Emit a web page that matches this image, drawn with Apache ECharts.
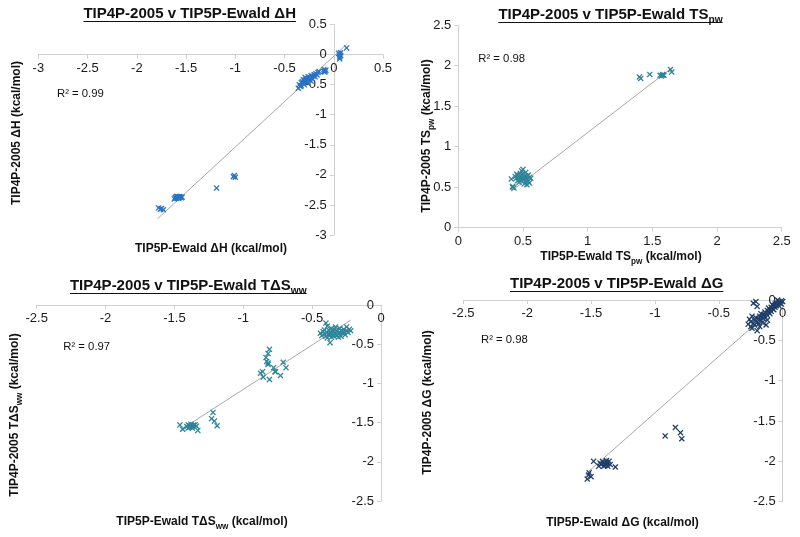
<!DOCTYPE html>
<html>
<head>
<meta charset="utf-8">
<script src="https://cdn.jsdelivr.net/npm/echarts@6/dist/echarts.min.js"></script>
<style>html,body{margin:0;padding:0;background:#fff;}#c{width:800px;height:537px;}</style>
</head>
<body>
<div id="c"></div>
<script>
// ---------- DATA ----------
const dH = [
 [-1.78,-2.55],[-1.76,-2.57],[-1.75,-2.56],[-1.73,-2.58],
 [-1.62,-2.40],[-1.61,-2.38],[-1.60,-2.39],[-1.59,-2.36],[-1.58,-2.37],[-1.58,-2.39],[-1.57,-2.36],[-1.57,-2.38],[-1.56,-2.37],[-1.55,-2.38],[-1.60,-2.36],[-1.54,-2.37],
 [-1.19,-2.22],
 [-1.02,-2.03],[-1.01,-2.01],[-1.00,-2.04],
 [-0.36,-0.56],[-0.35,-0.50],[-0.34,-0.53],[-0.33,-0.47],[-0.33,-0.52],[-0.32,-0.45],[-0.31,-0.48],[-0.30,-0.44],[-0.30,-0.50],[-0.29,-0.42],
 [-0.28,-0.45],[-0.28,-0.40],[-0.27,-0.43],[-0.26,-0.40],[-0.26,-0.37],[-0.25,-0.42],[-0.24,-0.38],[-0.23,-0.35],[-0.22,-0.40],[-0.21,-0.36],
 [-0.20,-0.33],[-0.19,-0.37],[-0.18,-0.32],[-0.17,-0.34],[-0.16,-0.30],[-0.15,-0.28],[-0.31,-0.42],[-0.27,-0.47],[-0.23,-0.44],[-0.29,-0.38],
 [-0.10,-0.25],[-0.09,-0.27],[-0.08,-0.26],[-0.09,-0.29],[-0.10,-0.28],
 [0.05,0.02],[0.06,0.00],[0.06,-0.04],[0.07,-0.02],[0.07,0.03],[0.06,-0.07],
 [0.13,0.11]
];
const tsPW = [
 [0.41,0.60],[0.42,0.50],[0.42,0.51],[0.43,0.49],
 [0.44,0.63],[0.45,0.61],[0.46,0.65],[0.46,0.58],[0.47,0.62],[0.47,0.56],[0.48,0.67],[0.48,0.60],[0.49,0.70],[0.49,0.63],
 [0.50,0.72],[0.50,0.66],[0.50,0.59],[0.51,0.62],[0.51,0.54],[0.52,0.64],[0.52,0.58],[0.53,0.60],[0.53,0.53],[0.54,0.65],
 [0.54,0.57],[0.55,0.62],[0.55,0.55],[0.56,0.61],[0.45,0.66],[0.48,0.64],[0.52,0.68],[0.47,0.59],[0.53,0.63],
 [1.40,1.86],[1.41,1.84],[1.48,1.89],[1.56,1.88],[1.57,1.87],[1.58,1.89],[1.58,1.88],[1.59,1.88],[1.64,1.95],[1.65,1.92]
];
const tdSWW = [
 [-1.46,-1.53],[-1.44,-1.585],[-1.41,-1.55],[-1.40,-1.53],[-1.39,-1.54],[-1.39,-1.56],[-1.38,-1.52],[-1.38,-1.55],
 [-1.37,-1.54],[-1.37,-1.57],[-1.36,-1.53],[-1.40,-1.57],[-1.35,-1.53],[-1.34,-1.545],[-1.33,-1.60],
 [-1.22,-1.37],[-1.23,-1.45],[-1.21,-1.48],[-1.19,-1.54],
 [-0.81,-0.565],[-0.82,-0.62],[-0.835,-0.67],[-0.83,-0.72],[-0.82,-0.76],[-0.86,-0.85],[-0.875,-0.87],[-0.855,-0.92],
 [-0.81,-0.95],[-0.78,-0.80],[-0.77,-0.85],[-0.765,-0.85],[-0.73,-0.90],[-0.71,-0.73],[-0.69,-0.80],[-0.82,-0.74],
 [-0.44,-0.36],[-0.43,-0.39],[-0.42,-0.34],[-0.41,-0.37],[-0.40,-0.23],[-0.40,-0.40],[-0.39,-0.27],[-0.39,-0.35],
 [-0.38,-0.32],[-0.38,-0.38],[-0.37,-0.48],[-0.37,-0.36],[-0.36,-0.30],[-0.36,-0.41],[-0.35,-0.34],[-0.35,-0.38],
 [-0.34,-0.31],[-0.34,-0.40],[-0.33,-0.36],[-0.33,-0.28],[-0.32,-0.39],[-0.32,-0.33],[-0.31,-0.37],[-0.30,-0.30],
 [-0.30,-0.35],[-0.29,-0.40],[-0.29,-0.33],[-0.28,-0.36],[-0.27,-0.31],[-0.27,-0.34],[-0.26,-0.38],[-0.25,-0.28],
 [-0.25,-0.33],[-0.24,-0.35],[-0.23,-0.31],[-0.22,-0.33],[-0.41,-0.32],[-0.39,-0.42],[-0.36,-0.37],[-0.31,-0.41]
];
const dG = [
 [-1.53,-2.22],[-1.52,-2.17],[-1.50,-2.19],[-1.515,-2.14],[-1.48,-2.00],[-1.44,-2.06],[-1.42,-2.04],[-1.40,-2.02],
 [-1.39,-2.05],[-1.38,-2.01],[-1.37,-2.03],[-1.36,-2.00],[-1.41,-2.00],[-1.35,-2.04],[-1.39,-2.03],[-1.37,-2.06],
 [-1.43,-2.02],[-1.38,-1.99],[-1.40,-2.06],[-1.31,-2.07],
 [-0.92,-1.685],[-0.84,-1.58],[-0.80,-1.645],[-0.79,-1.72],
 [-0.27,-0.30],[-0.26,-0.24],[-0.25,-0.33],[-0.25,-0.27],[-0.24,-0.20],[-0.24,-0.35],[-0.23,-0.04],[-0.23,-0.29],
 [-0.22,-0.25],[-0.22,-0.31],[-0.21,-0.22],[-0.21,-0.02],[-0.20,-0.27],[-0.20,-0.08],[-0.19,-0.23],[-0.19,-0.30],
 [-0.18,-0.20],[-0.18,-0.33],[-0.17,-0.25],[-0.17,-0.17],[-0.16,-0.21],[-0.16,-0.28],[-0.15,-0.18],[-0.15,-0.23],
 [-0.14,-0.15],[-0.14,-0.20],[-0.13,-0.31],[-0.13,-0.17],[-0.12,-0.13],[-0.12,-0.19],[-0.11,-0.15],[-0.11,-0.10],
 [-0.10,-0.12],[-0.10,-0.17],[-0.09,-0.09],[-0.09,-0.14],[-0.08,-0.11],[-0.08,-0.06],[-0.07,-0.08],[-0.07,-0.12],
 [-0.06,-0.05],[-0.06,-0.09],[-0.05,-0.07],[-0.05,-0.03],[-0.04,-0.05],[-0.03,-0.02],[-0.03,-0.07],[-0.02,-0.04],
 [-0.01,-0.01],[-0.01,-0.05],[0.00,-0.02],[-0.04,0.00],[-0.20,-0.38],[-0.12,-0.25]
];
// trendline end points
const trendH  = [[-1.79,-2.73],[0.13,0.17]];
const trendTS = [[0.41,0.45],[1.65,1.97]];
const trendSW = [[-1.45,-1.587],[-0.22,-0.193]];
const trendG  = [[-1.53,-2.14],[0.00,0.00]];
// axis ranges [min, max] and tick step
const rangeH  = [-3, 0.5];
const rangeTS = [0, 2.5];
const rangeSW = [-2.5, 0];
const rangeG  = [-2.5, 0];
const tickStep = 0.5;
// texts
const titles = ['TIP4P-2005 v TIP5P-Ewald ΔH', 'TIP4P-2005 v TIP5P-Ewald TS', 'TIP4P-2005 v TIP5P-Ewald TΔS', 'TIP4P-2005 v TIP5P-Ewald ΔG'];
const titleSubs = ['', 'pw', 'ww', ''];
const xTitles = ['TIP5P-Ewald ΔH (kcal/mol)', ['TIP5P-Ewald TS','pw',' (kcal/mol)'], ['TIP5P-Ewald TΔS','ww',' (kcal/mol)'], 'TIP5P-Ewald ΔG (kcal/mol)'];
const yTitles = ['TIP4P-2005 ΔH (kcal/mol)', ['TIP4P-2005 TS','pw',' (kcal/mol)'], ['TIP4P-2005 TΔS','ww',' (kcal/mol)'], 'TIP4P-2005 ΔG (kcal/mol)'];
const r2Labels = ['R² = 0.99', 'R² = 0.98', 'R² = 0.97', 'R² = 0.98'];

// ---------- STYLE / LAYOUT ----------
const FONT = '"Liberation Sans", Arial, Helvetica, sans-serif';
const colors = ['#2A72C4', '#2F8499', '#2F8499', '#1F3E68'];
const grids = [
  {left: 38.4, top: 24.5, width: 344.6, height: 210.5},
  {left: 458.3, top: 25, width: 323.4, height: 202.7},
  {left: 36.7, top: 305, width: 344.3, height: 196},
  {left: 463.3, top: 300, width: 319.4, height: 201.7}
];
const titlePos = [[189.7, 14], [610.5, 15], [188.3, 286], [616.7, 284]];
const xTitlePos = [[211, 249], [621, 257], [202, 522], [622.5, 523]];
const yTitlePos = [[17, 133], [427, 136], [15, 415], [428, 402.5]];
const r2Pos = [[57, 94], [478.3, 58.8], [63.3, 346.7], [481, 340]];
const XMARK = 'path://M0,1.5L1.5,0L5,3.5L8.5,0L10,1.5L6.5,5L10,8.5L8.5,10L5,6.5L1.5,10L0,8.5L3.5,5Z';

const ranges = [rangeH, rangeTS, rangeSW, rangeG];
const datasets = [dH, tsPW, tdSWW, dG];
const trends = [trendH, trendTS, trendSW, trendG];

const chart = echarts.init(document.getElementById('c'), null, {renderer: 'canvas'});

// axes cross at zero: place each axis line (and its labels) at the other axis' zero
function axis(i, isX) {
  const r = ranges[i];
  const frac = (0 - r[0]) / (r[1] - r[0]);
  const span = isX ? grids[i].height : grids[i].width;
  return {
    type: 'value', gridIndex: i, min: r[0], max: r[1], interval: tickStep,
    position: isX ? 'bottom' : 'left',
    offset: -span * frac,
    axisLine: {onZero: false, lineStyle: {color: '#D0D0D0', width: 1}},
    axisTick: {show: true, length: 4, lineStyle: {color: '#D0D0D0'}},
    splitLine: {show: false},
    axisLabel: {color: '#1a1a1a', fontSize: 13, fontFamily: FONT, margin: 7}
  };
}

const mctx = document.createElement('canvas').getContext('2d');
function measure(text, size, weight) {
  mctx.font = (weight || 'normal') + ' ' + size + 'px ' + FONT;
  return mctx.measureText(text).width;
}

function richText(parts) {
  if (typeof parts === 'string') return '{m|' + parts + '}';
  return '{m|' + parts[0] + '}{s|' + parts[1] + '}' + (parts[2] ? '{m|' + parts[2] + '}' : '');
}
function richStyle(size) {
  return {
    m: {fontSize: size, fontWeight: 'bold', fontFamily: FONT, fill: '#111', lineHeight: size + 5},
    s: {fontSize: size * 0.68, fontWeight: 'bold', fontFamily: FONT, fill: '#111', verticalAlign: 'bottom', lineHeight: size * 0.68}
  };
}

const graphics = [];
for (let i = 0; i < 4; i++) {
  const tParts = titleSubs[i] ? [titles[i], titleSubs[i]] : titles[i];
  graphics.push({type: 'text', x: titlePos[i][0], y: titlePos[i][1], silent: true,
    style: {text: richText(tParts), rich: richStyle(15), align: 'center', verticalAlign: 'middle'}});
  const w = measure(titles[i], 15, 'bold') + (titleSubs[i] ? measure(titleSubs[i], 15 * 0.68, 'bold') : 0);
  graphics.push({type: 'line', silent: true,
    shape: {x1: titlePos[i][0] - w / 2, y1: titlePos[i][1] + 7.5, x2: titlePos[i][0] + w / 2, y2: titlePos[i][1] + 7.5},
    style: {stroke: '#111', lineWidth: 1.2}});
  graphics.push({type: 'text', x: xTitlePos[i][0], y: xTitlePos[i][1], silent: true,
    style: {text: richText(xTitles[i]), rich: richStyle(12), align: 'center', verticalAlign: 'middle'}});
  graphics.push({type: 'text', x: yTitlePos[i][0], y: yTitlePos[i][1], rotation: Math.PI / 2, silent: true,
    style: {text: richText(yTitles[i]), rich: richStyle(12), align: 'center', verticalAlign: 'middle'}});
  graphics.push({type: 'text', x: r2Pos[i][0], y: r2Pos[i][1], silent: true,
    style: {text: r2Labels[i], fontSize: 11.3, fontFamily: FONT, fill: '#111', align: 'left', verticalAlign: 'middle'}});
}

const series = [];
for (let i = 0; i < 4; i++) {
  series.push({
    type: 'line', xAxisIndex: i, yAxisIndex: i, data: trends[i], showSymbol: false, silent: true,
    lineStyle: {color: '#A8A8A8', width: 1}, z: 1
  });
  series.push({
    type: 'scatter', xAxisIndex: i, yAxisIndex: i, data: datasets[i], symbol: XMARK, symbolSize: 6,
    itemStyle: {color: colors[i], opacity: 1}, z: 2
  });
}

chart.setOption({
  animation: false,
  backgroundColor: '#fff',
  grid: grids,
  xAxis: [0, 1, 2, 3].map(i => axis(i, true)),
  yAxis: [0, 1, 2, 3].map(i => axis(i, false)),
  series: series,
  graphic: graphics
});
</script>
</body>
</html>
